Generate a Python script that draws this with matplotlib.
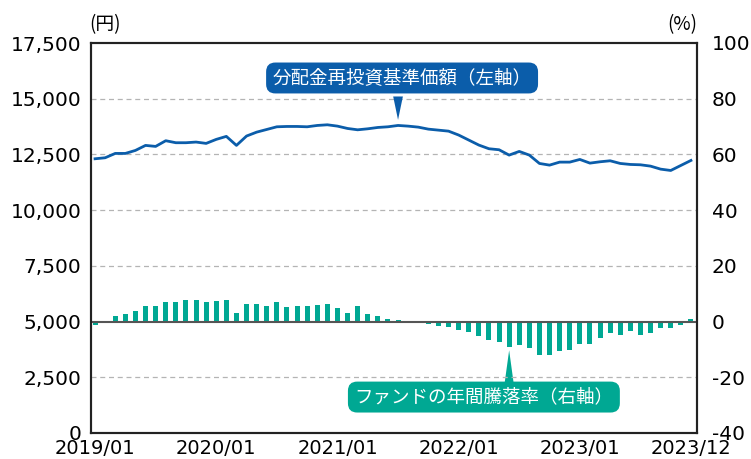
import numpy as np
import matplotlib.pyplot as plt
from matplotlib.transforms import ScaledTranslation

plt.rcParams['font.family'] = ['DejaVu Sans']
plt.rcParams['axes.unicode_minus'] = False
jp = ['Noto Sans CJK JP', 'DejaVu Sans']

# monthly data 2019/01 - 2023/12
nav = [12305, 12350, 12545, 12545, 12680, 12905, 12860, 13115, 13025, 13025,
       13055, 12995, 13175, 13310, 12905, 13325, 13500, 13620, 13740, 13755,
       13755, 13740, 13800, 13830, 13770, 13665, 13605, 13650, 13710, 13740,
       13800, 13770, 13725, 13635, 13590, 13545, 13370, 13145, 12920, 12755,
       12710, 12470, 12635, 12470, 12095, 12020, 12155, 12155, 12275, 12110,
       12170, 12215, 12095, 12050, 12035, 11975, 11840, 11780, 12005, 12230]
ret = [-1.2, 0.2, 1.9, 2.6, 3.7, 5.5, 5.5, 6.9, 6.9, 7.7,
       7.7, 6.9, 7.3, 7.7, 3.0, 6.2, 6.2, 5.5, 6.9, 5.1,
       5.5, 5.5, 5.9, 6.2, 4.8, 3.0, 5.5, 2.6, 1.9, 0.8,
       0.5, 0.1, 0.1, -0.8, -1.6, -1.9, -3.0, -3.7, -5.1, -6.6,
       -7.3, -9.1, -8.4, -9.5, -12.0, -12.0, -10.5, -10.2, -8.0, -8.0,
       -5.9, -4.1, -4.8, -3.3, -4.8, -4.1, -2.3, -2.3, -1.2, 0.8]
tick_pos = [0, 12, 24, 36, 48, 59]
tick_labels = ['2019/01', '2020/01', '2021/01', '2022/01', '2023/01', '2023/12']

blue = '#0B5DAA'
green = '#00A893'
x = np.arange(len(nav))

fig = plt.figure(figsize=(7.51, 4.59), dpi=100)
ax = fig.add_axes([91 / 751, 26 / 459, 606 / 751, 390 / 459])
ax2 = ax.twinx()

ax.set_ylim(0, 17500)
ax.set_yticks(np.arange(0, 17501, 2500))
ax.set_yticklabels([f'{v:,}' for v in range(0, 17501, 2500)])
for v in range(2500, 17500, 2500):
    if v != 5000:
        ax.axhline(v, color='#b4b4b4', lw=0.9, ls=(0, (4, 3)), zorder=0)
ax.axhline(5000, color='#555555', lw=1.5, zorder=1)

ax2.bar(x, ret, width=0.5, color=green, zorder=2)
ax2.set_ylim(-40, 100)
ax2.set_yticks(np.arange(-40, 101, 20))

ax.plot(x, nav, color=blue, lw=2, zorder=3)
ax.set_zorder(ax2.get_zorder() + 1)
ax.patch.set_visible(False)

ax.set_xlim(-0.4, 59.6)
ax.set_xticks(tick_pos)
ax.set_xticklabels(tick_labels)
for lab in ax.get_xticklabels():
    lab.set_transform(lab.get_transform() + ScaledTranslation(-6 / 100, 0, fig.dpi_scale_trans))

for a in (ax, ax2):
    a.tick_params(labelsize=14.5, length=0, colors='black')
    for s in a.spines.values():
        s.set_linewidth(1.5)
        s.set_color('#222222')
    for lab in a.get_yticklabels():
        lab.set_va('center_baseline')
        lab.set_transform(lab.get_transform() + ScaledTranslation(0, 2.5 / 100, fig.dpi_scale_trans))
ax.tick_params(axis='y', pad=7)
ax2.tick_params(axis='y', pad=10.5)
ax.tick_params(axis='x', pad=4.5, labelsize=14)

ax.text(0.023, 1.046, '(円)', transform=ax.transAxes, ha='center', va='center',
        fontsize=13.5, family=jp)
ax.text(1.0, 1.046, '(%)', transform=ax.transAxes, ha='right', va='center',
        fontsize=13.5, family=jp)

box = dict(boxstyle='round,pad=0.35,rounding_size=0.5', ec='none')

# blue label and pointer
ax.annotate('', xy=(30, 14050), xytext=(30, 15100), zorder=4,
            arrowprops=dict(arrowstyle='wedge,tail_width=0.7', fc=blue, ec='none',
                            shrinkA=0, shrinkB=0))
ax.text(30.4, 15930, '分配金再投資基準価額（左軸）', ha='center', va='center',
        color='white', fontsize=13.3, family=jp, zorder=5, bbox={**box, 'fc': blue})

# green label and pointer
ax2.annotate('', xy=(41, -10.3), xytext=(41, -23), zorder=4,
             arrowprops=dict(arrowstyle='wedge,tail_width=0.7', fc=green, ec='none',
                             shrinkA=0, shrinkB=0))
ax2.text(38.5, -27.1, 'ファンドの年間騰落率（右軸）', ha='center', va='center',
         color='white', fontsize=13.3, family=jp, zorder=5, bbox={**box, 'fc': green})

fig.savefig('out.png', dpi=100)
